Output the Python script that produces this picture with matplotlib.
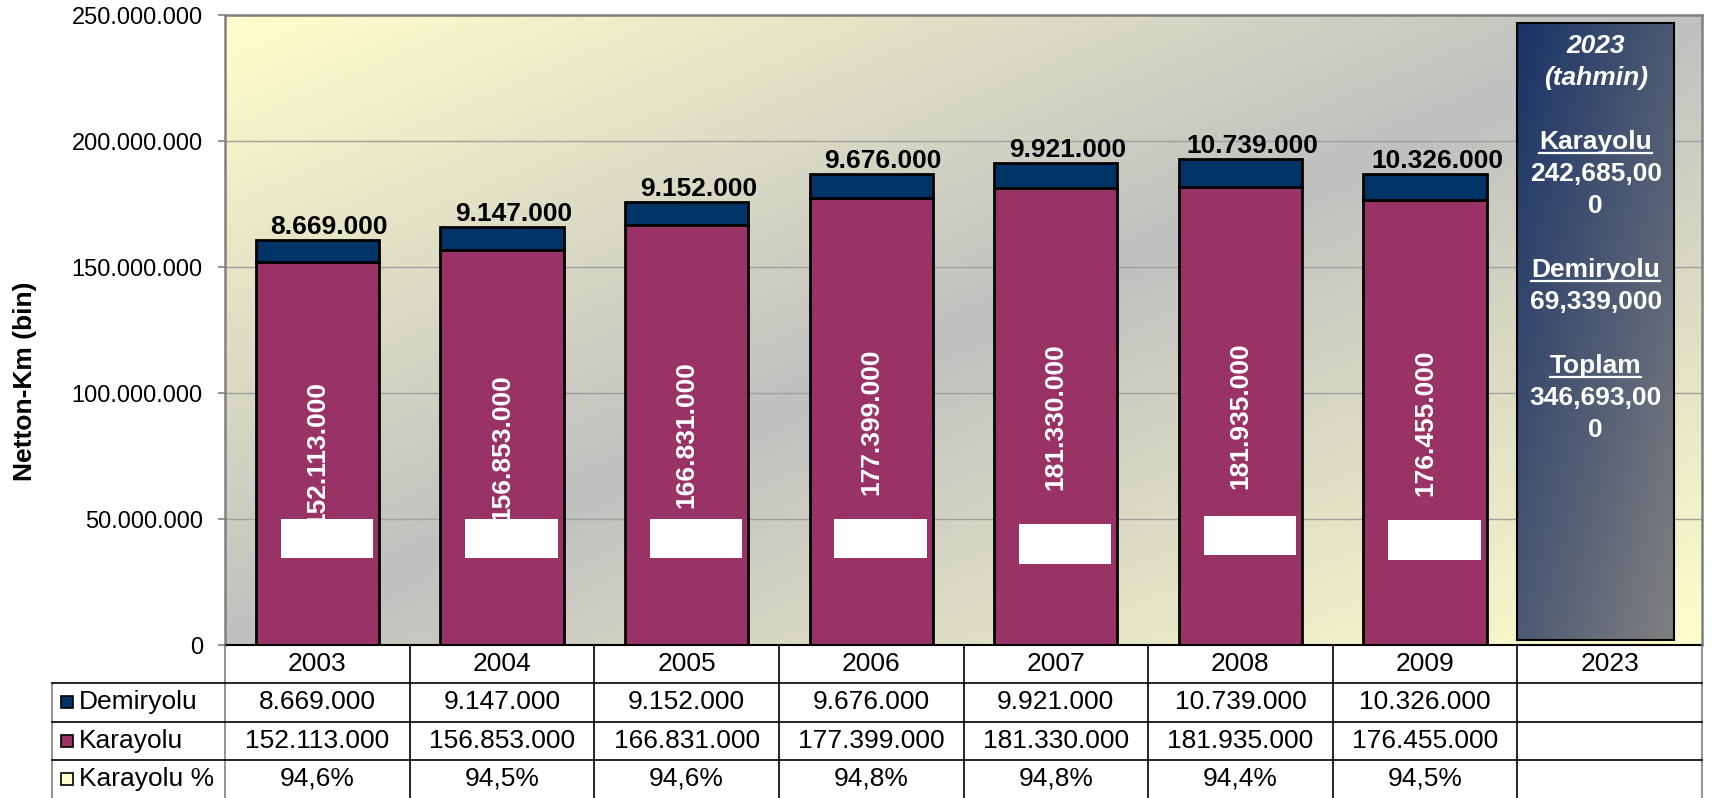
import numpy as np
import matplotlib.pyplot as plt
from matplotlib.ticker import FuncFormatter, MultipleLocator
from matplotlib.colors import LinearSegmentedColormap
from matplotlib.patches import Rectangle
from matplotlib.lines import Line2D

plt.rcParams['font.family'] = ['Liberation Sans', 'DejaVu Sans']

# Netton-km (bin) by mode of transport
years = ['2003', '2004', '2005', '2006', '2007', '2008', '2009', '2023']
demiryolu = [8669000, 9147000, 9152000, 9676000, 9921000, 10739000, 10326000]
karayolu = [152113000, 156853000, 166831000, 177399000, 181330000, 181935000, 176455000]
karayolu_pct = ['94,6%', '94,5%', '94,6%', '94,8%', '94,8%', '94,4%', '94,5%']

# empty white label boxes of the "Karayolu %" series
pct_box_bottom = [34.5e6, 34.5e6, 34.5e6, 34.5e6, 32.1e6, 35.6e6, 33.9e6]
pct_box_top = [50.0e6, 50.0e6, 50.0e6, 50.0e6, 48.2e6, 51.2e6, 49.5e6]

# 2023 forecast note: (text, italic, underlined)
forecast_lines = [
    ('2023', True, False), ('(tahmin)', True, False), ('', False, False),
    ('Karayolu', False, True), ('242,685,00', False, False), ('0', False, False),
    ('', False, False),
    ('Demiryolu', False, True), ('69,339,000', False, False), ('', False, False),
    ('Toplam', False, True), ('346,693,00', False, False), ('0', False, False),
]

c_demir = '#003366'
c_kara = '#993366'
c_pct = '#FFFFCC'


def fmt(v, pos=None):
    return f"{v:,.0f}".replace(',', '.')


W, H = 1713, 798
fig = plt.figure(figsize=(W / 100, H / 100), dpi=100)
ax = fig.add_axes([225 / W, 1 - 645 / H, 1477 / W, 630 / H])

ymax = 250e6
n = len(years)

# plot area fill: yellow in the corners, grey along the other diagonal
u = np.linspace(0, 1, 400)
v = np.linspace(0, 1, 200)
uu, vv = np.meshgrid(u, v)
bg = np.abs(uu + vv - 1)
bg_cmap = LinearSegmentedColormap.from_list('bg', ['#C0C0C0', '#FFFFCC'])
ax.imshow(bg, extent=(-0.5, n - 0.5, 0, ymax), aspect='auto', cmap=bg_cmap,
          origin='upper', interpolation='bicubic', zorder=0)

x = np.arange(len(karayolu))
bw = 0.667
ax.bar(x, karayolu, width=bw, color=c_kara, edgecolor='black', linewidth=2, zorder=2)
ax.bar(x, demiryolu, bottom=karayolu, width=bw, color=c_demir, edgecolor='black',
       linewidth=2, zorder=2)

for xi, k, d in zip(x, karayolu, demiryolu):
    ax.text(xi, k / 2, fmt(k), rotation=90, ha='center', va='center', color='white',
            fontsize=19, fontweight='bold', zorder=2.5)
    ax.annotate(fmt(d), (xi, k + d), xytext=(12, 1), textcoords='offset pixels',
                ha='center', va='bottom', fontsize=19, fontweight='bold', zorder=4)

box_h = np.array(pct_box_top) - np.array(pct_box_bottom)
ax.bar(x + 0.051, box_h, bottom=pct_box_bottom, width=0.5, color='white',
       linewidth=0, zorder=3)

ax.set_xlim(-0.5, n - 0.5)
ax.set_ylim(0, ymax)
ax.yaxis.set_major_locator(MultipleLocator(50e6))
ax.yaxis.set_major_formatter(FuncFormatter(fmt))
ax.set_xticks([])
ax.tick_params(axis='y', length=5, width=1.2, color='#808080', pad=11, labelsize=17)
ax.yaxis.grid(True, color='#A0A0A0', linewidth=1)
ax.set_axisbelow(True)
for side in ['left', 'top', 'right']:
    ax.spines[side].set_color('#808080')
    ax.spines[side].set_linewidth(1.8)
ax.spines['bottom'].set_color('black')
ax.spines['bottom'].set_linewidth(1.5)

fig.text(25 / W, 1 - 381 / H, 'Netton-Km (bin)', rotation=90, ha='center', va='center',
         fontsize=19, fontweight='bold')

# 2023 forecast box
bax = ax.inset_axes([n - 1.5, 2e6, 0.848, 244.8e6], transform=ax.transData, zorder=5)
box_cmap = LinearSegmentedColormap.from_list('box', ['#1A3366', '#808080'])
bu = np.linspace(0, 1, 100)
bv = np.linspace(0, 1, 300)
buu, bvv = np.meshgrid(bu, bv)
bax.imshow((buu + bvv) / 2, extent=(0, 1, 0, 1), aspect='auto', cmap=box_cmap,
           origin='upper', interpolation='bicubic')
bax.set_xticks([])
bax.set_yticks([])
for s in bax.spines.values():
    s.set_color('black')
    s.set_linewidth(1.5)

underlined = []
for i, (txt, italic, ul) in enumerate(forecast_lines):
    if not txt:
        continue
    t = bax.annotate(txt, (0.5, 1), xycoords='axes fraction',
                     xytext=(0, -(23 + 32 * i)), textcoords='offset pixels',
                     ha='center', va='center', color='white', fontsize=19,
                     fontweight='bold', fontstyle='italic' if italic else 'normal')
    if ul:
        underlined.append(t)

# data table under the chart
tax = fig.add_axes([52 / W, 0, 1650 / W, 153 / H])
col_w = 1477 / W / n
left = -0.5 - (225 - 52) / (1477 / n)
tax.set_xlim(left, n - 0.5)
tax.set_ylim(4, 0)
tax.axis('off')

for k in range(n + 1):
    c = '#808080' if k in (0, n) else 'black'
    tax.plot([k - 0.5, k - 0.5], [0, 4], color=c, lw=1.2, clip_on=False)
tax.plot([left, left], [1, 4], color='#808080', lw=1.2, clip_on=False)
for r in (1, 2, 3):
    tax.plot([left, n - 0.5], [r, r], color='black', lw=1.2, clip_on=False)

for i, yr in enumerate(years):
    tax.text(i, 0.5, yr, ha='center', va='center', fontsize=19)

rows = [('Demiryolu', c_demir, [fmt(d) for d in demiryolu]),
        ('Karayolu', c_kara, [fmt(k) for k in karayolu]),
        ('Karayolu %', c_pct, karayolu_pct)]
unit_px = 1477 / n
for r, (name, col, vals) in enumerate(rows, start=1):
    kw = 12 / unit_px
    kh = 12 / (153 / 4)
    tax.add_patch(Rectangle((left + 9 / unit_px, r + 0.5 - kh / 2), kw, kh,
                            facecolor=col, edgecolor='black', lw=1.2, clip_on=False))
    tax.text(left + 27 / unit_px, r + 0.5, name, ha='left', va='center', fontsize=19)
    for i, val in enumerate(vals):
        tax.text(i, r + 0.5, val, ha='center', va='center', fontsize=19)

# underline the headings inside the forecast box
fig.canvas.draw()
for t in underlined:
    bb = t.get_window_extent()
    yl = (bb.y0 + 1) / H
    fig.add_artist(Line2D([bb.x0 / W, bb.x1 / W], [yl, yl], color='white', lw=1.6,
                          zorder=10))

fig.savefig('out.png', dpi=100)
